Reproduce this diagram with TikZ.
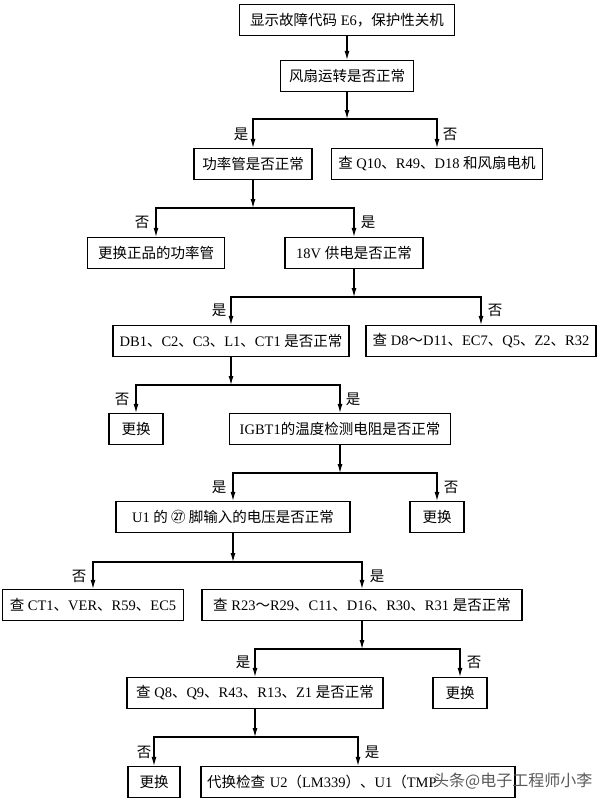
\documentclass[tikz,border=0pt]{standalone}
\usepackage{fontspec}
\usepackage{tikz}
\usetikzlibrary{arrows.meta}
\setmainfont{Liberation Serif}
\newfontfamily\zhfont{Noto Sans CJK SC}
\newcommand{\zh}[1]{{\zhfont #1}}

\begin{document}
\begin{tikzpicture}[x=1pt, y=-1pt,
      every node/.append style={font=\fontsize{14.5}{17}\selectfont},
      box/.style={draw, line width=1.1pt, minimum width=#1, minimum height=31pt, inner xsep=3pt, inner ysep=0pt},
      arr/.style={line width=1.1pt, -{Latex[length=9pt,width=5pt]}},
      yn/.style={inner sep=0pt}]
    \useasboundingbox (0,0) rectangle (599,800);
    % boxes
    \node[box=215pt] (alarm) at (347,20) {\zh{显示故障代码} E6\zh{，保护性关机}};
    \node[box=133pt] (fan) at (347,76) {\zh{风扇运转是否正常}};
    \node[box=118pt] (power) at (253,164) {\zh{功率管是否正常}};
    \node[box=211pt] (q10) at (437,164) {\zh{查} Q10\zh{、}R49\zh{、}D18 \zh{和风扇电机}};
    \node[box=137pt] (newpow) at (156,253) {\zh{更换正品的功率管}};
    \node[box=138pt] (v18) at (354,253) {18V \zh{供电是否正常}};
    \node[box=236pt] (db1) at (231,341) {DB1\zh{、}C2\zh{、}C3\zh{、}L1\zh{、}CT1 \zh{是否正常}};
    \node[box=230pt] (d8) at (481,341) {\zh{查} D8\zh{～}D11\zh{、}EC7\zh{、}Q5\zh{、}Z2\zh{、}R32};
    \node[box=54pt] (rep1) at (136,429) {\zh{更换}};
    \node[box=221pt] (igbt) at (340,429) {IGBT1\zh{的温度检测电阻是否正常}};
    \node[box=234pt] (u1) at (233,517) {U1 \zh{的 ㉗ 脚输入的电压是否正常}};
    \node[box=54pt] (rep2) at (437,517) {\zh{更换}};
    \node[box=181pt] (ct1) at (93,605) {\zh{查} CT1\zh{、}VER\zh{、}R59\zh{、}EC5};
    \node[box=320pt] (r23) at (362,605) {\zh{查} R23\zh{～}R29\zh{、}C11\zh{、}D16\zh{、}R30\zh{、}R31 \zh{是否正常}};
    \node[box=256pt] (q8) at (255,693) {\zh{查} Q8\zh{、}Q9\zh{、}R43\zh{、}R13\zh{、}Z1 \zh{是否正常}};
    \node[box=54pt] (rep3) at (460,693) {\zh{更换}};
    \node[box=52pt] (rep4) at (154,782) {\zh{更换}};
    \node[box=314pt, text width=302pt, align=left] (swap) at (358,782) {\zh{代换检查} U2\zh{（}LM339\zh{）、}U1\zh{（}TMP};
    \node[anchor=west, inner sep=0pt, text=black!65, font=\zhfont\fontsize{16}{18}\selectfont] (mark) at (433,781) {头条@电子工程师小李};
    % junctions
    \coordinate (j1) at (347,119);
    \coordinate (j2) at (253,208);
    \coordinate (j3) at (354,297);
    \coordinate (j4) at (231,385);
    \coordinate (j5) at (340,473);
    \coordinate (j6) at (233,562);
    \coordinate (j7) at (362,649);
    \coordinate (j8) at (255,737);
    % connectors
    \draw[arr] (alarm) -- (fan);
    \draw[arr] (fan) -- (j1);
    \draw[arr] (j1) -| (power);
    \draw[arr] (j1) -| (q10);
    \draw[arr] (power) -- (j2);
    \draw[arr] (j2) -| (newpow);
    \draw[arr] (j2) -| (v18);
    \draw[arr] (v18) -- (j3);
    \draw[arr] (j3) -| (db1);
    \draw[arr] (j3) -| (d8);
    \draw[arr] (db1) -- (j4);
    \draw[arr] (j4) -| (rep1);
    \draw[arr] (j4) -| (igbt);
    \draw[arr] (igbt) -- (j5);
    \draw[arr] (j5) -| (u1);
    \draw[arr] (j5) -| (rep2);
    \draw[arr] (u1) -- (j6);
    \draw[arr] (j6) -| (ct1);
    \draw[arr] (j6) -| (r23);
    \draw[arr] (r23) -- (j7);
    \draw[arr] (j7) -| (q8);
    \draw[arr] (j7) -| (rep3);
    \draw[arr] (q8) -- (j8);
    \draw[arr] (j8) -| (rep4);
    \draw[arr] (j8) -| (swap);
    % yes / no labels
    \node[yn] (y1) at (241,134) {\zh{是}};
    \node[yn] (n1) at (450,134) {\zh{否}};
    \node[yn] (n2) at (142,222) {\zh{否}};
    \node[yn] (y2) at (368,222) {\zh{是}};
    \node[yn] (y3) at (219,310) {\zh{是}};
    \node[yn] (n3) at (495,310) {\zh{否}};
    \node[yn] (n4) at (122,399) {\zh{否}};
    \node[yn] (y4) at (353,399) {\zh{是}};
    \node[yn] (y5) at (219,487) {\zh{是}};
    \node[yn] (n5) at (451,487) {\zh{否}};
    \node[yn] (n6) at (79,576) {\zh{否}};
    \node[yn] (y6) at (377,576) {\zh{是}};
    \node[yn] (y7) at (243,662) {\zh{是}};
    \node[yn] (n7) at (474,662) {\zh{否}};
    \node[yn] (n8) at (144,752) {\zh{否}};
    \node[yn] (y8) at (372,752) {\zh{是}};
\end{tikzpicture}
\end{document}
